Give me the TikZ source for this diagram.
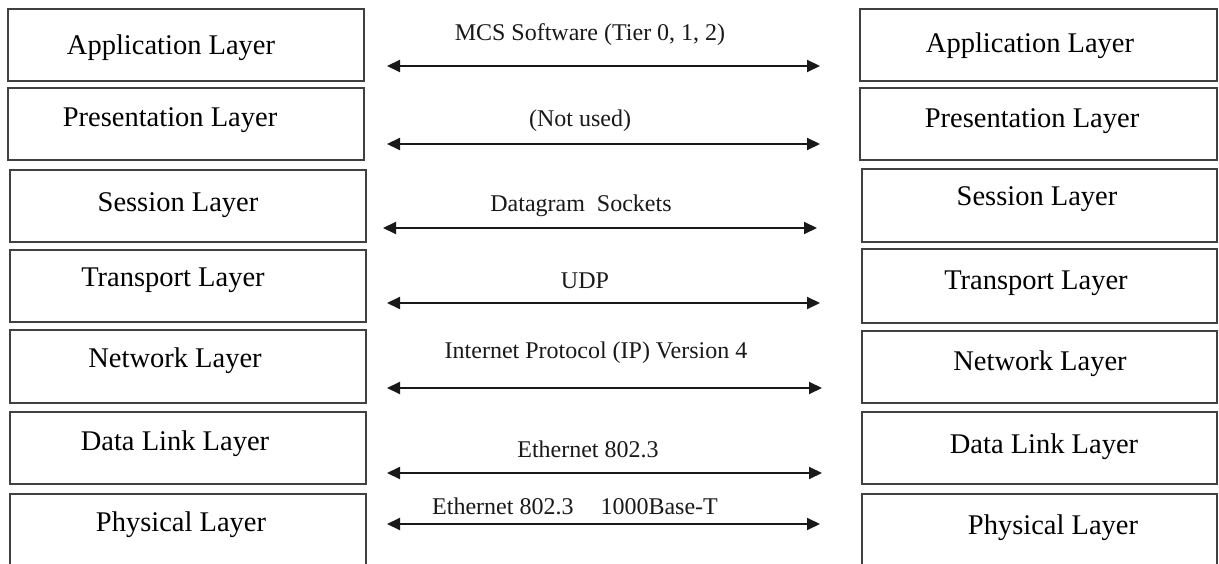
\documentclass[tikz,border=0pt]{standalone}
\usepackage{fontspec}
\setmainfont{Liberation Serif}
\usetikzlibrary{arrows.meta}
\begin{document}
\begin{tikzpicture}[x=1pt,y=-1pt,
  layerbox/.style={draw=black!75,line width=1.7pt,inner sep=0pt,outer sep=0pt,fill=white},
  layertext/.style={anchor=base,inner sep=0pt,font=\fontsize{28.5}{31}\selectfont,text=black},
  protolabel/.style={anchor=base,inner sep=0pt,font=\fontsize{24}{27}\selectfont,text=black!90},
  dblarrow/.style={draw=black!90,line width=2pt,{Triangle[length=13pt,width=12pt]}-{Triangle[length=13pt,width=12pt]}}
]
\fill[white] (0,0) rectangle (1219,564);
\useasboundingbox (0,0) rectangle (1219,564);

% left boxes
\node[layerbox,minimum width=356pt,minimum height=72pt] (L1) at (186,45) {};
\node[layerbox,minimum width=356pt,minimum height=72pt] (L2) at (186,124) {};
\node[layerbox,minimum width=356pt,minimum height=72pt] (L3) at (188,206) {};
\node[layerbox,minimum width=356pt,minimum height=72pt] (L4) at (188,286) {};
\node[layerbox,minimum width=356pt,minimum height=73pt] (L5) at (188,366.5) {};
\node[layerbox,minimum width=356pt,minimum height=72pt] (L6) at (188,448) {};
\node[layerbox,minimum width=356pt,minimum height=80pt] (L7) at (188,534) {};

% right boxes
\node[layerbox,minimum width=357pt,minimum height=72pt] (R1) at (1038.5,45) {};
\node[layerbox,minimum width=357pt,minimum height=72pt] (R2) at (1038.5,124) {};
\node[layerbox,minimum width=355pt,minimum height=73pt] (R3) at (1039.5,205.5) {};
\node[layerbox,minimum width=355pt,minimum height=74pt] (R4) at (1039.5,286) {};
\node[layerbox,minimum width=355pt,minimum height=72pt] (R5) at (1039.5,367) {};
\node[layerbox,minimum width=355pt,minimum height=72pt] (R6) at (1039.5,448) {};
\node[layerbox,minimum width=355pt,minimum height=80pt] (R7) at (1039.5,534) {};

% left labels
\node[layertext] (tL1) at (171,55) {Application Layer};
\node[layertext] (tL2) at (170,127) {Presentation Layer};
\node[layertext] (tL3) at (178,212) {Session Layer};
\node[layertext] (tL4) at (173,287) {Transport Layer};
\node[layertext] (tL5) at (175,367) {Network Layer};
\node[layertext] (tL6) at (175,450) {Data Link Layer};
\node[layertext] (tL7) at (181,531) {Physical Layer};

% right labels
\node[layertext] (tR1) at (1030,53) {Application Layer};
\node[layertext] (tR2) at (1032,128) {Presentation Layer};
\node[layertext] (tR3) at (1037,206) {Session Layer};
\node[layertext] (tR4) at (1036,290) {Transport Layer};
\node[layertext] (tR5) at (1040,370) {Network Layer};
\node[layertext] (tR6) at (1044,453) {Data Link Layer};
\node[layertext] (tR7) at (1053,534) {Physical Layer};

% arrow end points
\coordinate (a1l) at (387,66);  \coordinate (a1r) at (820,66);
\coordinate (a2l) at (387,144); \coordinate (a2r) at (820,144);
\coordinate (a3l) at (383,228); \coordinate (a3r) at (817,228);
\coordinate (a4l) at (387,303); \coordinate (a4r) at (820,303);
\coordinate (a5l) at (387,388); \coordinate (a5r) at (822,388);
\coordinate (a6l) at (387,473); \coordinate (a6r) at (822,473);
\coordinate (a7l) at (387,524); \coordinate (a7r) at (820,524);

\draw[dblarrow] (a1l) -- (a1r);
\draw[dblarrow] (a2l) -- (a2r);
\draw[dblarrow] (a3l) -- (a3r);
\draw[dblarrow] (a4l) -- (a4r);
\draw[dblarrow] (a5l) -- (a5r);
\draw[dblarrow] (a6l) -- (a6r);
\draw[dblarrow] (a7l) -- (a7r);

% protocol labels
\node[protolabel] (p1) at (590,41) {MCS Software (Tier 0, 1, 2)};
\node[protolabel] (p2) at (580,127) {(Not used)};
\node[protolabel] (p3) at (581,212) {Datagram\hspace{6pt} Sockets};
\node[protolabel] (p4) at (585,289) {UDP};
\node[protolabel] (p5) at (596,358) {Internet Protocol (IP) Version 4};
\node[protolabel] (p6) at (588,457) {Ethernet 802.3};
\node[protolabel] (p7) at (575,514) {Ethernet 802.3\hspace{21pt} 1000Base-T};
\end{tikzpicture}
\end{document}
